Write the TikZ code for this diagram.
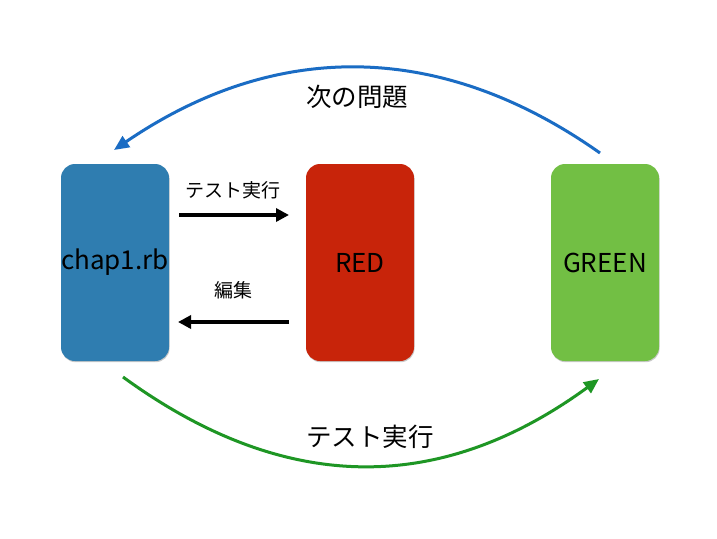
\documentclass[tikz,border=0pt]{standalone}
\usepackage{fontspec}
\setmainfont{Noto Sans CJK JP}
\usetikzlibrary{arrows.meta,shadows}
\definecolor{boxblue}{HTML}{2F7DB0}
\definecolor{boxred}{HTML}{C8240A}
\definecolor{boxgreen}{HTML}{72BF44}
\definecolor{arcblue}{HTML}{1A6CC4}
\definecolor{arcgreen}{HTML}{1E9624}
\begin{document}
\begin{tikzpicture}[x=1pt,y=-1pt,
  card/.style={rounded corners=14pt, minimum width=108pt, minimum height=197pt,
    inner sep=0pt, font=\fontsize{26}{30}\selectfont,
    drop shadow={shadow xshift=0.6pt, shadow yshift=-1.2pt, opacity=0.35, fill=black!60}},
  flow/.style={line width=3.5pt, -{Triangle[length=13pt,width=13pt]}},
  arcline/.style={line width=3pt, -{Triangle[length=15pt,width=13pt]}},
  smalllbl/.style={font=\fontsize{19}{22}\selectfont},
  biglbl/.style={font=\fontsize{25.5}{30}\selectfont}]
\useasboundingbox (0,0) rectangle (717,538);
\fill[white] (0,0) rectangle (717,538);
\node[card, fill=boxblue] (chap) at (115,262.5) {chap1.rb};
\node[card, fill=boxred] (red) at (360,262.5) {RED};
\node[card, fill=boxgreen] (green) at (605,262.5) {GREEN};
% straight arrows
\coordinate (a1s) at (179,215);
\coordinate (a1e) at (289,215);
\coordinate (a2s) at (289,322);
\coordinate (a2e) at (178,322);
\draw[flow] (a1s) -- (a1e);
\draw[flow] (a2s) -- (a2e);
\node[smalllbl] (lblrun) at (233,190) {テスト実行};
\node[smalllbl] (lbledit) at (233,290) {編集};
% curved arrows
\coordinate (bs) at (600,153);
\coordinate (be) at (114,150);
\draw[arcblue, arcline] (bs) .. controls (440,40) and (275,40) .. (be);
\node[biglbl] (lblnext) at (357,97) {次の問題};
\coordinate (gs) at (123,377);
\coordinate (ge) at (599,379);
\draw[arcgreen, arcline] (gs) .. controls (285,495) and (440,495) .. (ge);
\node[biglbl] (lblrun2) at (370,437) {テスト実行};
\end{tikzpicture}
\end{document}
